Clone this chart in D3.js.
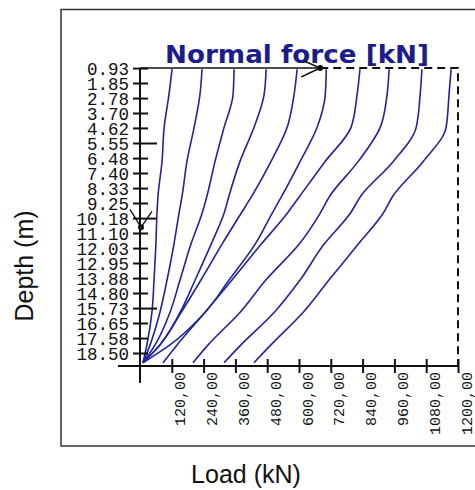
<!DOCTYPE html>
<html>
<head>
<meta charset="utf-8">
<script src="https://cdn.jsdelivr.net/npm/d3@7/dist/d3.min.js"></script>
<style>
body { margin: 0; background: #fff; }
</style>
</head>
<body>
<svg id="chart" width="475" height="490"></svg>
<script>
// depth of the sampled points (m)
var depths = [1.0, 2.6, 4.6, 6.7, 8.8, 9.9, 11.8, 14.0, 16.0, 18.0, 19.1];

// normal force in the pile for each load step (kN)
var step1 = [121, 109, 91, 83, 68, 64, 60, 53, 45, 26, 11];
var step2 = [234, 226, 204, 177, 159, 147, 128, 102, 75, 38, 11];
var step3 = [355, 351, 317, 283, 253, 234, 192, 151, 113, 57, 11];
var step4 = [476, 468, 430, 377, 336, 317, 268, 208, 151, 75, 11];
var step5 = [593, 581, 555, 494, 423, 381, 309, 230, 155, 75, 11];
var step6 = [703, 699, 668, 604, 536, 498, 434, 336, 245, 113, 11];
var step7 = [830, 819, 796, 698, 604, 555, 457, 347, 245, 140, 87];
var step8 = [940, 932, 906, 823, 717, 679, 600, 475, 377, 257, 200];
var step9 = [1064, 1057, 1042, 955, 834, 793, 694, 604, 506, 381, 317];
var step10 = [1174, 1166, 1155, 1068, 955, 917, 823, 713, 615, 494, 430];
var steps = [step1, step2, step3, step4, step5, step6, step7, step8, step9, step10];

var loadTicks = [120, 240, 360, 480, 600, 720, 840, 960, 1080, 1200];
var depthTicks = [0.93, 1.85, 2.78, 3.70, 4.62, 5.55, 6.48, 7.40, 8.33, 9.25,
                  10.18, 11.10, 12.03, 12.95, 13.88, 14.80, 15.73, 16.65, 17.58, 18.50];
var longTicks = [5.55, 10.18, 15.73];

var maxLoad = 1200;   // dashed envelope
var arrowLoad = 680;  // end of the top arrow
var arrowDepth = 10.75;

var svg = d3.select("#chart");

// outer frame
svg.append("rect")
    .attr("x", 61).attr("y", 9.5)
    .attr("width", 440).attr("height", 436.5)
    .attr("fill", "none").attr("stroke", "#333").attr("stroke-width", 1.5);

var x = d3.scaleLinear().domain([0, 1200]).range([140, 458]);
var y = d3.scaleLinear().domain([0.925, 18.5]).range([68, 353]);
var yAxisPos = 366;

// title
svg.append("text")
    .attr("x", 165).attr("y", 63)
    .attr("textLength", 264).attr("lengthAdjust", "spacingAndGlyphs")
    .style("font-family", "DejaVu Sans")
    .style("font-weight", "bold")
    .style("font-size", "25px")
    .attr("fill", "#1c1c8e")
    .text("Normal force [kN]");

// curves
var line = d3.line()
    .x(function(d) { return x(d[0]); })
    .y(function(d) { return y(d[1]); })
    .curve(d3.curveMonotoneY);

steps.forEach(function(s) {
    var pts = s.map(function(v, i) { return [v, depths[i]]; });
    svg.append("path")
        .attr("d", line(pts))
        .attr("fill", "none")
        .attr("stroke", "#23239c")
        .attr("stroke-width", 1.6);
});

// dashed envelope
svg.append("path")
    .attr("d", "M" + x(arrowLoad) + "," + y(0.925) + "H" + x(maxLoad) + "V" + yAxisPos)
    .attr("fill", "none")
    .attr("stroke", "#111")
    .attr("stroke-width", 2)
    .attr("stroke-dasharray", "8,5");

// x axis
var xAxis = d3.axisBottom(x).tickValues(loadTicks).tickSize(7)
    .tickFormat(function(d) { return d.toFixed(2).replace(".", ","); });
var gx = svg.append("g").attr("transform", "translate(0," + yAxisPos + ")").call(xAxis);
gx.select(".domain").remove();
gx.selectAll(".tick line").attr("y1", -7).attr("stroke", "#111").attr("stroke-width", 2);
gx.selectAll(".tick text")
    .attr("transform", "translate(13,6) rotate(-90)")
    .attr("x", 0).attr("y", 0).attr("dy", null)
    .attr("text-anchor", "end")
    .style("font-family", "Liberation Mono")
    .style("font-size", "15px")
    .attr("fill", "#111");

svg.append("line")
    .attr("x1", 118).attr("x2", x(1200))
    .attr("y1", yAxisPos).attr("y2", yAxisPos)
    .attr("stroke", "#111").attr("stroke-width", 2);

// y axis
var yAxis = d3.axisLeft(y).tickValues(depthTicks).tickSize(7)
    .tickFormat(function(d) { return d.toFixed(2); });
var gy = svg.append("g").attr("transform", "translate(" + x(0) + ",0)").call(yAxis);
gy.select(".domain").remove();
gy.selectAll(".tick line")
    .attr("x1", function(d) { return longTicks.indexOf(d) >= 0 ? 17 : 8; })
    .attr("x2", -7)
    .attr("stroke", "#111").attr("stroke-width", 2);
gy.selectAll(".tick text")
    .attr("x", -11).attr("dy", "0.36em")
    .attr("textLength", function(d) { return d.toFixed(2).length * 10.5; })
    .attr("lengthAdjust", "spacingAndGlyphs")
    .style("font-family", "Liberation Mono")
    .style("font-size", "19px")
    .attr("fill", "#111");

svg.append("line")
    .attr("x1", x(0)).attr("x2", x(0))
    .attr("y1", y(0.925)).attr("y2", 383)
    .attr("stroke", "#111").attr("stroke-width", 2);

// top arrow
var ax = x(arrowLoad), ay = y(0.925);
svg.append("line")
    .attr("x1", x(0)).attr("x2", ax).attr("y1", ay).attr("y2", ay)
    .attr("stroke", "#111").attr("stroke-width", 1.6);
svg.append("path")
    .attr("d", "M" + (ax - 16) + "," + (ay - 7) + "L" + ax + "," + ay + "L" + (ax - 19) + "," + (ay + 9))
    .attr("fill", "none").attr("stroke", "#111").attr("stroke-width", 1.4);
svg.append("circle").attr("cx", ax).attr("cy", ay).attr("r", 3).attr("fill", "#111");

// depth arrow on the axis
var dy = y(arrowDepth);
svg.append("path")
    .attr("d", "M" + (x(0) - 10) + "," + (dy - 18) + "L" + (x(0) + 1) + "," + dy + "L" + (x(0) + 12) + "," + (dy - 16))
    .attr("fill", "none").attr("stroke", "#111").attr("stroke-width", 1.4);
svg.append("circle").attr("cx", x(0) + 1).attr("cy", dy).attr("r", 3).attr("fill", "#111");

// axis titles
svg.append("text")
    .attr("transform", "translate(33,266) rotate(-90)")
    .attr("text-anchor", "middle")
    .style("font-family", "Liberation Sans")
    .style("font-size", "25px")
    .attr("fill", "#111")
    .text("Depth (m)");

svg.append("text")
    .attr("x", 246).attr("y", 483)
    .attr("text-anchor", "middle")
    .style("font-family", "Liberation Sans")
    .style("font-size", "25px")
    .attr("fill", "#111")
    .text("Load (kN)");
</script>
</body>
</html>
